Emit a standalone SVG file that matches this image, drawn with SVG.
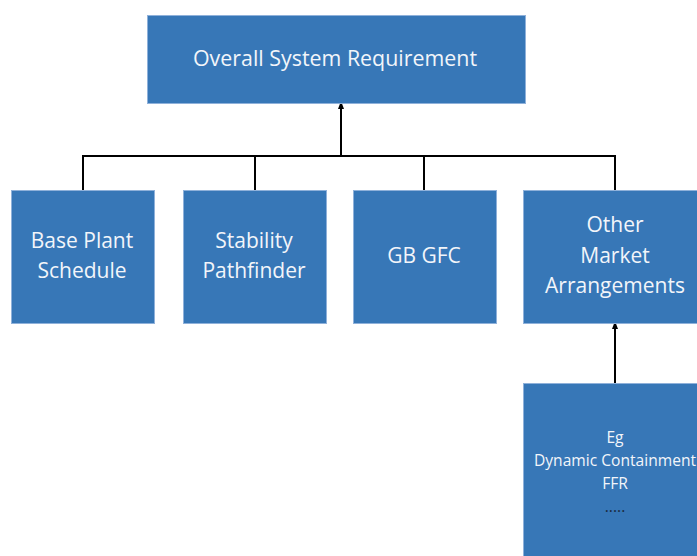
<svg xmlns="http://www.w3.org/2000/svg" width="697" height="556" viewBox="0 0 697 556">
<style>
.box{fill:#3777b7;stroke:#8fb1da;stroke-width:1}
.t{font-family:"Open Sans","Liberation Sans",sans-serif;fill:#f2f5fa;text-anchor:middle}
.big{font-size:21.4px}
.mid{font-size:21px}
.sm{font-size:15.6px}
.c{stroke:#000;stroke-width:2;fill:none}
</style>
<defs>
<marker id="ah" markerWidth="8" markerHeight="8" refX="4" refY="4" orient="auto" markerUnits="userSpaceOnUse">
<path d="M0,1 L8,4 L0,7 Z" fill="#000"/>
</marker>
</defs>
<rect width="697" height="556" fill="#fff"/>
<g id="connectors">
<path class="c" d="M83,190 V156 H615 V190"/>
<path class="c" d="M255,156 V190"/>
<path class="c" d="M424,156 V190"/>
<path class="c" d="M341,156 V105" marker-end="url(#ah)"/>
<path class="c" d="M615,383 V325" marker-end="url(#ah)"/>
</g>
<g id="overall">
<rect class="box" x="147.5" y="15.5" width="378" height="88"/>
<text class="t big" x="335" y="66">Overall System Requirement</text>
</g>
<g id="base-plant">
<rect class="box" x="11.5" y="190.5" width="143" height="133"/>
<text class="t mid" x="82" y="248">Base Plant</text>
<text class="t mid" x="82" y="278">Schedule</text>
</g>
<g id="stability">
<rect class="box" x="183.5" y="190.5" width="143" height="133"/>
<text class="t mid" x="254" y="248">Stability</text>
<text class="t mid" x="254" y="278">Pathfinder</text>
</g>
<g id="gbgfc">
<rect class="box" x="353.5" y="190.5" width="143" height="133"/>
<text class="t mid" x="424" y="263">GB GFC</text>
</g>
<g id="other">
<rect class="box" x="523.5" y="190.5" width="185" height="133"/>
<text class="t mid" x="615" y="232">Other</text>
<text class="t mid" x="615" y="263">Market</text>
<text class="t mid" x="615" y="293">Arrangements</text>
</g>
<g id="eg">
<rect class="box" x="523.5" y="383.5" width="185" height="180"/>
<text class="t sm" x="615" y="443">Eg</text>
<text class="t sm" x="615" y="466">Dynamic Containment</text>
<text class="t sm" x="615" y="489">FFR</text>
<text class="t sm" x="615" y="512" style="fill:#1a2a40">.....</text>
</g>
</svg>
